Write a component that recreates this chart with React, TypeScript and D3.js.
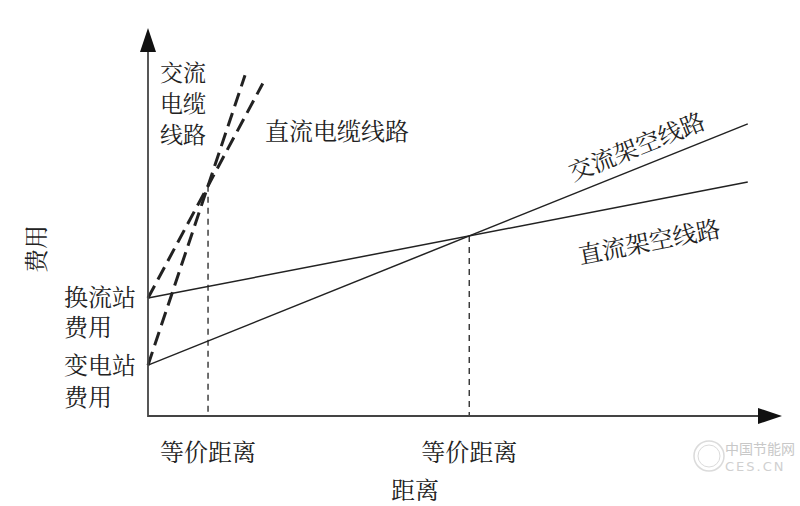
import React from "react";
import * as d3 from "d3";

// Cost lines (distance in %, cost in %)
const lineNames = ["直流架空线路", "交流架空线路", "直流电缆线路", "交流电缆线路"];
const lineKinds = ["overhead", "overhead", "cable", "cable"];
const lineStartCost = [30.4, 13.1, 30.4, 13.1];
const lineEndDistance = [94.6, 94.6, 18.1, 15.3];
const lineEndCost = [60.3, 75.3, 85.7, 87.8];

const breakEvenPairs = [[2, 3], [0, 1]];
const breakEvenLabel = "等价距离";
const xAxisTitle = "距离";
const yAxisTitle = "费用";
const converterLabel = ["换流站", "费用"];
const substationLabel = ["变电站", "费用"];
const acCableLabel = ["交流", "电缆", "线路"];

const FONT = "'Noto Serif CJK SC', 'Noto Sans CJK SC', serif";
const INK = "#222";

export default function App() {
  const W = 800, H = 506;
  const x = d3.scaleLinear().domain([0, 100]).range([148, 782]);
  const y = d3.scaleLinear().domain([0, 100]).range([416, 28]);

  const slope = (i: number) => (lineEndCost[i] - lineStartCost[i]) / lineEndDistance[i];
  const intersect = (a: number, b: number) => {
    const d = (lineStartCost[b] - lineStartCost[a]) / (slope(a) - slope(b));
    return { d, c: lineStartCost[a] + slope(a) * d };
  };
  const lineGen = d3.line<[number, number]>().x(p => x(p[0])).y(p => y(p[1]));
  const angleOf = (i: number) => {
    const dx = x(lineEndDistance[i]) - x(0);
    const dy = y(lineEndCost[i]) - y(lineStartCost[i]);
    return (Math.atan2(dy, dx) * 180) / Math.PI;
  };

  const x0 = x(0), y0 = y(0);
  const xTip = x(100), yTip = y(100);

  return (
    <svg width={W} height={H} style={{ position: "absolute", left: 0, top: 0, background: "#fff" }}
      fontFamily={FONT}>
      <rect width={W} height={H} fill="#fff" />
      {/* break-even verticals */}
      {breakEvenPairs.map(([a, b], k) => {
        const p = intersect(a, b);
        return (
          <g key={"be" + k}>
            <line x1={x(p.d)} x2={x(p.d)} y1={y(p.c)} y2={y0} stroke={INK} strokeWidth={1.3}
              strokeDasharray="6 5" />
            <text x={x(p.d)} y={450} fontSize={24} textAnchor="middle" dominantBaseline="central" fill={INK}>
              {breakEvenLabel}
            </text>
          </g>
        );
      })}
      {/* cost lines */}
      {lineNames.map((n, i) => (
        <path key={n}
          d={lineGen([[0, lineStartCost[i]], [lineEndDistance[i], lineEndCost[i]]]) || ""}
          fill="none" stroke={INK}
          strokeWidth={lineKinds[i] === "cable" ? 3 : 1.5}
          strokeDasharray={lineKinds[i] === "cable" ? "14 7" : undefined} />
      ))}
      {/* axes */}
      <line x1={x0} y1={y0} x2={xTip - 20} y2={y0} stroke="#444" strokeWidth={1.8} />
      <line x1={x0} y1={y0 + 1} x2={x0} y2={yTip + 20} stroke="#444" strokeWidth={1.8} />
      <polygon points={`${xTip},${y0} ${xTip - 24},${y0 - 8} ${xTip - 24},${y0 + 8}`} fill="#111" />
      <polygon points={`${x0},${yTip} ${x0 - 8},${yTip + 24} ${x0 + 8},${yTip + 24}`} fill="#111" />

      {/* axis titles */}
      <text x={415} y={488} fontSize={24} textAnchor="middle" dominantBaseline="central" fill={INK}>{xAxisTitle}</text>
      <text transform="translate(34,249) rotate(-90)" fontSize={24} textAnchor="middle" dominantBaseline="central" fill={INK}>{yAxisTitle}</text>

      {/* station cost labels */}
      <text fontSize={24} dominantBaseline="central" fill={INK}>
        {converterLabel.map((t, k) => (
          <tspan key={"cv" + k} x={64} y={295 + k * 30}>{t}</tspan>
        ))}
      </text>
      <text fontSize={24} dominantBaseline="central" fill={INK}>
        {substationLabel.map((t, k) => (
          <tspan key={"ss" + k} x={64} y={363 + k * 32}>{t}</tspan>
        ))}
      </text>

      {/* line labels */}
      <text fontSize={23} dominantBaseline="central" fill={INK}>
        {acCableLabel.map((t, k) => (
          <tspan key={"ac" + k} x={160} y={71 + k * 31}>{t}</tspan>
        ))}
      </text>
      <text x={265} y={129} fontSize={24} dominantBaseline="central" fill={INK}>{lineNames[2]}</text>
      <text transform={`translate(636,145) rotate(${angleOf(1)})`} fontSize={24} textAnchor="middle"
        dominantBaseline="central" fill={INK}>{lineNames[1]}</text>
      <text transform={`translate(649,240) rotate(${angleOf(0)})`} fontSize={24} textAnchor="middle"
        dominantBaseline="central" fill={INK}>{lineNames[0]}</text>

      {/* watermark */}
      <g opacity={0.35} fill="none" stroke="#999">
        <circle cx={709} cy={456} r={15} strokeWidth={1.5} />
        <circle cx={709} cy={456} r={11} strokeWidth={1} />
      </g>
      <text x={725} y={448} fontSize={14} fill="#c8c8c8" fontFamily="'Noto Sans CJK SC', sans-serif"
        dominantBaseline="central">中国节能网</text>
      <text x={725} y={466} fontSize={13} fill="#d0d0d0" fontFamily="'DejaVu Sans', sans-serif"
        letterSpacing={2} dominantBaseline="central">CES.CN</text>
    </svg>
  );
}
